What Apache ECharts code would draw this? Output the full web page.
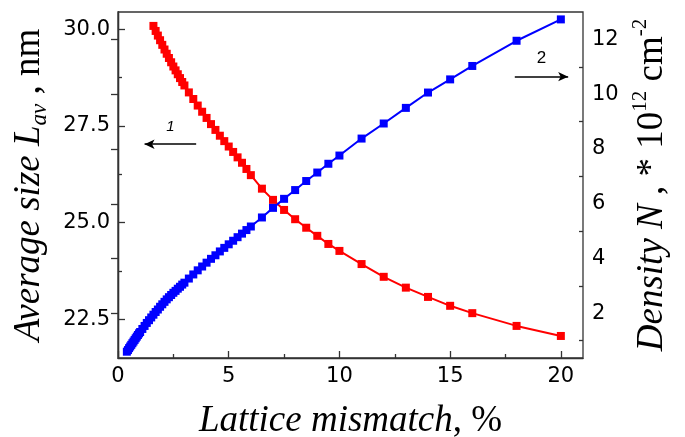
<!DOCTYPE html>
<html>
<head>
<meta charset="utf-8">
<script src="https://cdn.jsdelivr.net/npm/echarts@6/dist/echarts.min.js"></script>
<style>html,body{margin:0;padding:0;background:#fff}#c{width:685px;height:437px}</style>
</head>
<body>
<div id="c"></div>
<script>
// Curve 1: average size L_av (nm), left axis
var sizeX = [1.6,1.7,1.8,1.9,2.0,2.1,2.2,2.3,2.4,2.5,2.6,2.7,2.8,2.9,3.0,3.2,3.4,3.6,3.8,4.0,4.2,4.4,4.6,4.8,5.0,5.2,5.4,5.6,5.8,6.0,6.5,7.0,7.5,8.0,8.5,9.0,9.5,10,11,12,13,14,15,16,18,20];
var sizeY = [30.09,29.96,29.84,29.72,29.60,29.48,29.37,29.26,29.15,29.04,28.94,28.84,28.74,28.64,28.55,28.37,28.20,28.03,27.87,27.71,27.55,27.40,27.25,27.11,26.97,26.83,26.69,26.55,26.39,26.23,25.88,25.59,25.33,25.09,24.87,24.66,24.45,24.27,23.93,23.60,23.32,23.08,22.85,22.66,22.33,22.07];
// Curve 2: density N (10^12 cm^-2), right axis
var densX = [0.40,0.45,0.50,0.55,0.60,0.65,0.70,0.75,0.80,0.85,0.90,0.95,1.0,1.1,1.2,1.3,1.4,1.5,1.6,1.7,1.8,1.9,2.0,2.1,2.2,2.3,2.4,2.5,2.6,2.7,2.8,2.9,3.0,3.2,3.4,3.6,3.8,4.0,4.2,4.4,4.6,4.8,5.0,5.2,5.4,5.6,5.8,6.0,6.5,7.0,7.5,8.0,8.5,9.0,9.5,10,11,12,13,14,15,16,18,20];
var densY = [0.60,0.66,0.73,0.79,0.85,0.91,0.97,1.03,1.09,1.15,1.21,1.27,1.32,1.43,1.54,1.65,1.75,1.85,1.95,2.05,2.14,2.24,2.33,2.42,2.51,2.59,2.67,2.75,2.82,2.90,2.97,3.05,3.12,3.27,3.42,3.57,3.71,3.85,3.99,4.12,4.26,4.39,4.52,4.65,4.78,4.91,5.04,5.17,5.50,5.85,6.18,6.50,6.83,7.14,7.46,7.76,8.38,8.93,9.50,10.06,10.54,11.03,11.95,12.73];
// Ticks
var xTicks = [0,5,10,15,20];
var xMinor = [2.5,7.5,12.5,17.5];
var leftTicks = [22.5,25.0,27.5,30.0];
var leftMinor = [23.75,26.25,28.75];
var rightTicks = [2,4,6,8,10,12];
var rightMinor = [1,3,5,7,9,11];

function pairs(xs, ys){ return xs.map(function(x,i){ return [x, ys[i]]; }); }

var axisColor = '#333';
var labelFont = {color:'#000', fontFamily:'DejaVu Sans', fontSize:21};
var serifI = {fontFamily:'Liberation Serif', fontStyle:'italic', fontSize:37, lineHeight:44, color:'#000'};
var serifN = {fontFamily:'Liberation Serif', fontStyle:'normal', fontSize:37, lineHeight:44, color:'#000'};

var chart = echarts.init(document.getElementById('c'));
chart.setOption({
  animation:false,
  grid:{left:118, top:12, width:465, height:346, containLabel:false, outerBoundsMode:'none',
        show:true, borderColor:axisColor, borderWidth:1.3, backgroundColor:'transparent'},
  xAxis:[
    {type:'value', min:0, max:21, position:'bottom',
     axisLine:{show:true, lineStyle:{color:axisColor, width:1.3}},
     axisTick:{show:true, inside:true, length:7, customValues:xTicks, lineStyle:{color:axisColor, width:1.3}},
     axisLabel:Object.assign({customValues:xTicks, margin:8}, labelFont),
     splitLine:{show:false},
     name:'{i|Lattice mismatch}{n|, %}', nameLocation:'middle', nameGap:41,
     nameTextStyle:{rich:{i:serifI, n:serifN}}},
    {type:'value', min:0, max:21, position:'bottom',
     axisLine:{show:false},
     axisTick:{show:true, inside:true, length:4, customValues:xMinor, lineStyle:{color:axisColor, width:1.3}},
     axisLabel:{show:false}, splitLine:{show:false}}
  ],
  yAxis:[
    {type:'value', min:21.5, max:30.45, position:'left',
     axisLine:{show:true, lineStyle:{color:axisColor, width:1.3}},
     axisTick:{show:true, inside:true, length:7, customValues:leftTicks, lineStyle:{color:axisColor, width:1.3}},
     axisLabel:Object.assign({customValues:leftTicks, margin:8, formatter:function(v){return v.toFixed(1);}}, labelFont),
     splitLine:{show:false},
     name:'{i|Average size L}{sub|av}{n| , nm}', nameLocation:'middle', nameRotate:90, nameGap:67,
     nameTextStyle:{rich:{i:serifI, n:serifN,
       sub:{fontFamily:'Liberation Serif', fontStyle:'italic', fontSize:23, lineHeight:20, verticalAlign:'bottom', color:'#000'}}}},
    {type:'value', min:0.37, max:13.0, position:'right',
     axisLine:{show:true, lineStyle:{color:axisColor, width:1.3}},
     axisTick:{show:true, inside:true, length:7, customValues:rightTicks, lineStyle:{color:axisColor, width:1.3}},
     axisLabel:Object.assign({customValues:rightTicks, margin:9}, labelFont),
     splitLine:{show:false},
     name:'{i|Density N}{n| , * 10}{sup|12}{n| cm}{sup|-2}', nameLocation:'middle', nameRotate:90, nameGap:47,
     nameTextStyle:{rich:{i:serifI, n:serifN,
       sup:{fontFamily:'Liberation Serif', fontSize:21, lineHeight:20, verticalAlign:'top', color:'#000'}}}},
    {type:'value', min:21.5, max:30.45, position:'left',
     axisLine:{show:false},
     axisTick:{show:true, inside:true, length:4, customValues:leftMinor, lineStyle:{color:axisColor, width:1.3}},
     axisLabel:{show:false}, splitLine:{show:false}},
    {type:'value', min:0.37, max:13.0, position:'right',
     axisLine:{show:false},
     axisTick:{show:true, inside:true, length:4, customValues:rightMinor, lineStyle:{color:axisColor, width:1.3}},
     axisLabel:{show:false}, splitLine:{show:false}}
  ],
  series:[
    {name:'size', type:'line', xAxisIndex:0, yAxisIndex:0, data:pairs(sizeX,sizeY),
     symbol:'rect', symbolSize:8, showAllSymbol:true, color:'#ff0000',
     lineStyle:{color:'#ff0000', width:2}, itemStyle:{color:'#ff0000'},
     markLine:{silent:true, symbol:['none','arrow'], symbolSize:[7,10],
       lineStyle:{color:'#000', width:1.5, type:'solid'},
       label:{show:true, position:'insideMiddleTop', distance:10, formatter:'1',
         fontFamily:'Liberation Sans', fontStyle:'italic', fontSize:15, color:'#000'},
       data:[[{coord:[3.53,27.03]},{coord:[1.2,27.03]}]]}},
    {name:'density', type:'line', xAxisIndex:0, yAxisIndex:1, data:pairs(densX,densY),
     symbol:'rect', symbolSize:8, showAllSymbol:true, color:'#0000ff',
     lineStyle:{color:'#0000ff', width:2}, itemStyle:{color:'#0000ff'},
     markLine:{silent:true, symbol:['none','arrow'], symbolSize:[7,10],
       lineStyle:{color:'#000', width:1.5, type:'solid'},
       label:{show:true, position:'insideMiddleTop', distance:10, formatter:'2',
         fontFamily:'Liberation Sans', fontSize:17, color:'#000'},
       data:[[{coord:[17.92,10.64]},{coord:[20.33,10.64]}]]}}
  ]
});
</script>
</body>
</html>
